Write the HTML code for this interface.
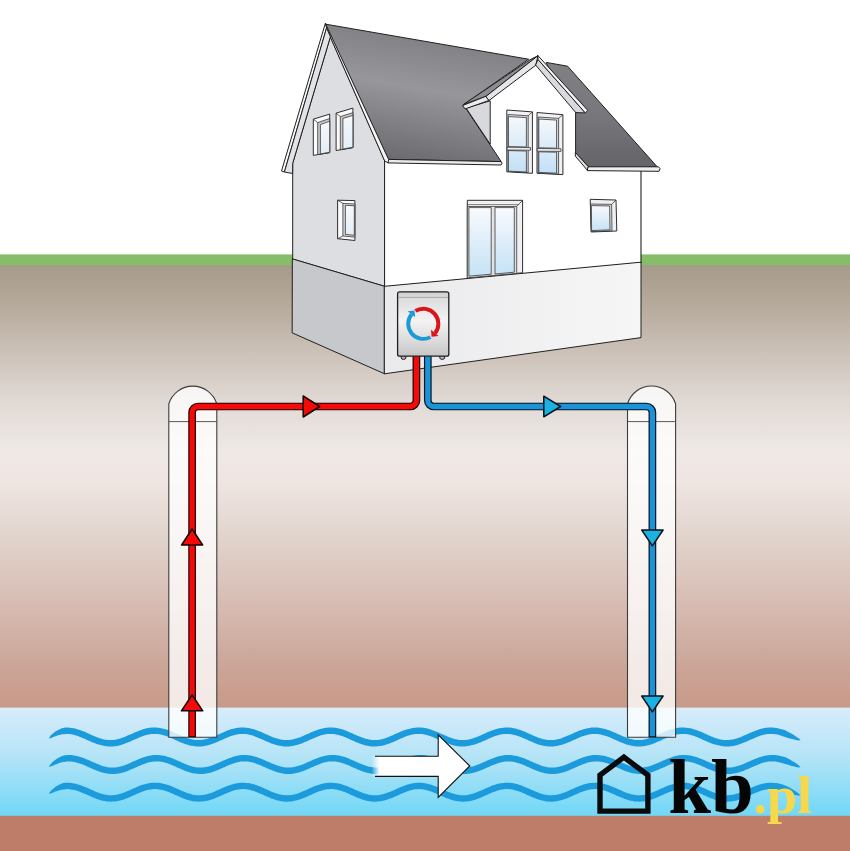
<!DOCTYPE html>
<html>
<head>
<meta charset="utf-8">
<title>Pompa ciepła woda-woda</title>
<style>
html,body{margin:0;padding:0;background:#fff;}
body{width:850px;height:851px;overflow:hidden;font-family:"Liberation Serif",serif;}
svg{display:block;}
</style>
</head>
<body>
<svg width="850" height="851" viewBox="0 0 850 851">
<defs>
  <linearGradient id="ground" x1="0" y1="0" x2="0" y2="1">
    <stop offset="0" stop-color="#A69A8B"/>
    <stop offset="0.079" stop-color="#B4A899"/>
    <stop offset="0.192" stop-color="#CBC0B6"/>
    <stop offset="0.305" stop-color="#E0D9D4"/>
    <stop offset="0.418" stop-color="#EFE9E6"/>
    <stop offset="0.486" stop-color="#EFE5E2"/>
    <stop offset="0.621" stop-color="#E0D3CB"/>
    <stop offset="0.757" stop-color="#D8BDB4"/>
    <stop offset="0.893" stop-color="#CCA79A"/>
    <stop offset="1" stop-color="#C89987"/>
  </linearGradient>
  <linearGradient id="water" x1="0" y1="0" x2="0" y2="1">
    <stop offset="0" stop-color="#D8ECFB"/>
    <stop offset="0.45" stop-color="#B4E4F7"/>
    <stop offset="1" stop-color="#70D7F6"/>
  </linearGradient>
  <linearGradient id="roof" gradientUnits="userSpaceOnUse" x1="420" y1="34" x2="397" y2="166">
    <stop offset="0" stop-color="#7F7F84"/>
    <stop offset="0.4" stop-color="#97979B"/>
    <stop offset="1" stop-color="#68686C"/>
  </linearGradient>
  <linearGradient id="roofR" gradientUnits="userSpaceOnUse" x1="0" y1="60" x2="0" y2="168">
    <stop offset="0" stop-color="#808085"/>
    <stop offset="0.5" stop-color="#78787C"/>
    <stop offset="1" stop-color="#646468"/>
  </linearGradient>
  <linearGradient id="glass" x1="0" y1="0" x2="0" y2="1">
    <stop offset="0" stop-color="#F8FAFD"/>
    <stop offset="0.4" stop-color="#E4F0FA"/>
    <stop offset="1" stop-color="#C6E3F6"/>
  </linearGradient>
  <linearGradient id="glassU" x1="0" y1="0" x2="0" y2="1">
    <stop offset="0" stop-color="#F4F8FC"/>
    <stop offset="1" stop-color="#DAEAF8"/>
  </linearGradient>
  <linearGradient id="glassL" x1="0" y1="0" x2="0" y2="1">
    <stop offset="0" stop-color="#D6E9F8"/>
    <stop offset="1" stop-color="#C2E0F5"/>
  </linearGradient>
  <linearGradient id="glassS" x1="0" y1="0" x2="0" y2="1">
    <stop offset="0" stop-color="#F7F9FC"/>
    <stop offset="1" stop-color="#E3EDF7"/>
  </linearGradient>
  <linearGradient id="baseF" x1="0" y1="0" x2="1" y2="0">
    <stop offset="0" stop-color="#EAEAEC"/>
    <stop offset="1" stop-color="#F6F6F7"/>
  </linearGradient>
  <linearGradient id="box" x1="0" y1="0" x2="0" y2="1">
    <stop offset="0" stop-color="#CFCFD0"/>
    <stop offset="0.1" stop-color="#DCDCDD"/>
    <stop offset="0.45" stop-color="#F3F3F4"/>
    <stop offset="0.8" stop-color="#D8D8D9"/>
    <stop offset="1" stop-color="#C6C6C7"/>
  </linearGradient>
  <linearGradient id="fade" x1="0" y1="0" x2="1" y2="0">
    <stop offset="0" stop-color="#fff" stop-opacity="0"/>
    <stop offset="1" stop-color="#fff" stop-opacity="1"/>
  </linearGradient>
</defs>

<!-- background layers -->
<rect x="0" y="0" width="850" height="851" fill="#fff"/>
<rect x="0" y="254.4" width="850" height="12" fill="#87BD68"/>
<rect x="0" y="265.2" width="850" height="443" fill="url(#ground)"/>
<rect x="0" y="707.6" width="850" height="109" fill="url(#water)"/>
<rect x="0" y="815.8" width="850" height="36" fill="#BD7D69"/>

<!-- waves -->
<g fill="#1C9BDC"><path d="M48.8,738.4 L50.1,736.2 L51.7,734.5 L53.5,733.0 L55.3,731.6 L57.2,730.4 L59.2,729.4 L61.2,728.5 L63.3,727.9 L65.5,727.6 L67.6,727.5 L69.8,727.7 L71.8,727.9 L73.9,728.3 L75.9,728.8 L77.9,729.4 L79.9,730.0 L81.9,730.7 L83.8,731.5 L85.8,732.3 L87.7,733.2 L89.6,734.0 L91.4,734.9 L93.3,735.7 L95.1,736.4 L96.9,737.2 L98.7,737.8 L100.5,738.4 L102.2,739.0 L104.0,739.4 L105.7,739.7 L107.4,739.9 L109.1,740.1 L110.8,740.1 L112.5,740.0 L114.2,739.9 L115.9,739.6 L117.6,739.2 L119.3,738.8 L121.1,738.2 L122.9,737.6 L124.7,736.9 L126.5,736.1 L128.3,735.3 L130.2,734.5 L132.1,733.7 L134.0,732.8 L135.9,732.0 L137.8,731.2 L139.8,730.4 L141.8,729.7 L143.8,729.1 L145.8,728.6 L147.8,728.1 L149.9,727.8 L151.9,727.6 L154.0,727.5 L156.1,727.5 L158.1,727.7 L160.2,728.0 L162.2,728.4 L164.3,728.9 L166.3,729.4 L168.3,730.1 L170.2,730.8 L172.2,731.6 L174.1,732.4 L176.0,733.3 L177.9,734.1 L179.8,735.0 L181.6,735.8 L183.4,736.6 L185.3,737.3 L187.0,737.9 L188.8,738.5 L190.6,739.0 L192.3,739.4 L194.0,739.7 L195.7,740.0 L197.4,740.1 L199.1,740.1 L200.8,740.0 L202.5,739.8 L204.2,739.5 L205.9,739.1 L207.6,738.7 L209.4,738.1 L211.2,737.5 L213.0,736.8 L214.8,736.0 L216.6,735.2 L218.5,734.4 L220.4,733.5 L222.3,732.7 L224.2,731.9 L226.2,731.1 L228.1,730.3 L230.1,729.6 L232.1,729.0 L234.1,728.5 L236.2,728.1 L238.2,727.8 L240.3,727.6 L242.3,727.5 L244.4,727.6 L246.5,727.7 L248.5,728.0 L250.6,728.4 L252.6,728.9 L254.6,729.5 L256.6,730.2 L258.6,731.0 L260.5,731.7 L262.4,732.6 L264.3,733.4 L266.2,734.3 L268.1,735.1 L269.9,735.9 L271.8,736.7 L273.6,737.4 L275.3,738.0 L277.1,738.6 L278.9,739.1 L280.6,739.5 L282.3,739.8 L284.0,740.0 L285.7,740.1 L287.4,740.1 L289.1,740.0 L290.8,739.8 L292.5,739.5 L294.2,739.1 L295.9,738.6 L297.7,738.0 L299.5,737.4 L301.3,736.7 L303.1,735.9 L305.0,735.1 L306.8,734.3 L308.7,733.4 L310.6,732.6 L312.5,731.7 L314.5,731.0 L316.5,730.2 L318.4,729.5 L320.4,728.9 L322.5,728.4 L324.5,728.0 L326.6,727.7 L328.6,727.6 L330.7,727.5 L332.8,727.6 L334.8,727.8 L336.9,728.1 L338.9,728.5 L341.0,729.0 L343.0,729.6 L344.9,730.3 L346.9,731.1 L348.8,731.9 L350.8,732.7 L352.7,733.5 L354.5,734.4 L356.4,735.2 L358.3,736.0 L360.1,736.8 L361.9,737.5 L363.7,738.1 L365.4,738.7 L367.2,739.1 L368.9,739.5 L370.6,739.8 L372.3,740.0 L374.0,740.1 L375.7,740.1 L377.4,740.0 L379.1,739.7 L380.8,739.4 L382.5,739.0 L384.2,738.5 L386.0,737.9 L387.8,737.3 L389.6,736.6 L391.4,735.8 L393.3,735.0 L395.2,734.1 L397.0,733.3 L398.9,732.4 L400.9,731.6 L402.8,730.8 L404.8,730.1 L406.8,729.4 L408.8,728.9 L410.8,728.4 L412.9,728.0 L414.9,727.7 L417.0,727.5 L419.1,727.5 L421.1,727.6 L423.2,727.8 L425.2,728.1 L427.3,728.6 L429.3,729.1 L431.3,729.7 L433.3,730.4 L435.2,731.2 L437.2,732.0 L439.1,732.8 L441.0,733.7 L442.9,734.5 L444.7,735.3 L446.6,736.1 L448.4,736.9 L450.2,737.6 L452.0,738.2 L453.7,738.8 L455.5,739.2 L457.2,739.6 L458.9,739.9 L460.6,740.0 L462.3,740.1 L464.0,740.1 L465.7,739.9 L467.4,739.7 L469.1,739.4 L470.8,739.0 L472.6,738.4 L474.3,737.8 L476.1,737.2 L477.9,736.4 L479.8,735.7 L481.6,734.9 L483.5,734.0 L485.4,733.2 L487.3,732.3 L489.2,731.5 L491.2,730.7 L493.1,730.0 L495.1,729.4 L497.1,728.8 L499.2,728.3 L501.2,727.9 L503.3,727.7 L505.3,727.5 L507.4,727.5 L509.5,727.6 L511.5,727.8 L513.6,728.2 L515.6,728.6 L517.6,729.2 L519.6,729.8 L521.6,730.5 L523.6,731.3 L525.5,732.1 L527.4,732.9 L529.3,733.8 L531.2,734.6 L533.0,735.5 L534.9,736.2 L536.7,737.0 L538.5,737.7 L540.3,738.3 L542.0,738.8 L543.8,739.3 L545.5,739.6 L547.2,739.9 L548.9,740.0 L550.6,740.1 L552.3,740.1 L554.0,739.9 L555.7,739.7 L557.4,739.3 L559.1,738.9 L560.9,738.4 L562.6,737.8 L564.4,737.1 L566.2,736.3 L568.1,735.6 L569.9,734.7 L571.8,733.9 L573.7,733.0 L575.6,732.2 L577.5,731.4 L579.5,730.6 L581.5,729.9 L583.5,729.3 L585.5,728.7 L587.5,728.2 L589.6,727.9 L591.6,727.6 L593.7,727.5 L595.8,727.5 L597.8,727.6 L599.9,727.9 L601.9,728.2 L604.0,728.7 L606.0,729.3 L608.0,729.9 L610.0,730.6 L611.9,731.4 L613.8,732.2 L615.7,733.1 L617.6,733.9 L619.5,734.8 L621.4,735.6 L623.2,736.4 L625.0,737.1 L626.8,737.8 L628.6,738.4 L630.3,738.9 L632.1,739.3 L633.8,739.7 L635.5,739.9 L637.2,740.1 L638.9,740.1 L640.6,740.0 L642.3,739.9 L644.0,739.6 L645.7,739.3 L647.4,738.8 L649.2,738.3 L650.9,737.7 L652.7,737.0 L654.6,736.2 L656.4,735.4 L658.3,734.6 L660.1,733.8 L662.0,732.9 L663.9,732.1 L665.9,731.3 L667.8,730.5 L669.8,729.8 L671.8,729.2 L673.8,728.6 L675.9,728.2 L677.9,727.8 L680.0,727.6 L682.0,727.5 L684.1,727.5 L686.2,727.7 L688.2,727.9 L690.3,728.3 L692.3,728.8 L694.3,729.4 L696.3,730.0 L698.3,730.8 L700.2,731.5 L702.2,732.3 L704.1,733.2 L706.0,734.0 L707.8,734.9 L709.7,735.7 L711.5,736.5 L713.3,737.2 L715.1,737.9 L716.9,738.5 L718.6,739.0 L720.4,739.4 L722.1,739.7 L723.8,739.9 L725.5,740.1 L727.2,740.1 L728.9,740.0 L730.5,739.8 L732.3,739.6 L734.0,739.2 L735.7,738.7 L737.5,738.2 L739.3,737.6 L741.1,736.9 L742.9,736.1 L744.7,735.3 L746.6,734.5 L748.5,733.6 L750.4,732.8 L752.3,732.0 L754.2,731.2 L756.2,730.4 L758.2,729.7 L760.2,729.1 L762.2,728.6 L764.2,728.1 L766.3,727.8 L768.3,727.6 L770.4,727.5 L772.5,727.5 L774.5,727.7 L776.6,728.0 L778.6,728.4 L780.7,728.9 L782.7,729.5 L784.7,730.1 L786.6,730.9 L788.5,731.9 L790.3,732.9 L792.1,734.0 L793.9,735.1 L795.6,736.2 L797.3,737.4 L799.0,738.6 L800.5,740.3 L800.5,740.3 L798.2,740.5 L796.2,740.1 L794.1,739.6 L792.1,739.1 L790.1,738.5 L788.1,737.9 L786.2,737.4 L784.3,736.8 L782.5,736.2 L780.7,735.6 L779.0,735.1 L777.3,734.6 L775.6,734.3 L773.8,734.1 L772.2,733.9 L770.5,733.9 L768.8,734.0 L767.1,734.1 L765.4,734.4 L763.7,734.8 L761.9,735.2 L760.2,735.8 L758.4,736.4 L756.6,737.1 L754.8,737.9 L752.9,738.7 L751.1,739.5 L749.2,740.3 L747.3,741.2 L745.4,742.0 L743.4,742.8 L741.5,743.6 L739.5,744.3 L737.5,744.9 L735.5,745.4 L733.4,745.9 L731.4,746.2 L729.3,746.4 L727.3,746.5 L725.2,746.5 L723.1,746.3 L721.1,746.0 L719.0,745.6 L717.0,745.1 L715.0,744.6 L713.0,743.9 L711.0,743.2 L709.1,742.4 L707.1,741.6 L705.2,740.7 L703.3,739.9 L701.5,739.0 L699.6,738.2 L697.8,737.4 L696.0,736.7 L694.2,736.1 L692.4,735.5 L690.7,735.0 L689.0,734.6 L687.3,734.3 L685.6,734.0 L683.9,733.9 L682.2,733.9 L680.5,734.0 L678.8,734.2 L677.1,734.5 L675.4,734.8 L673.6,735.3 L671.9,735.9 L670.1,736.5 L668.3,737.2 L666.4,738.0 L664.6,738.8 L662.7,739.6 L660.9,740.5 L659.0,741.3 L657.0,742.1 L655.1,742.9 L653.1,743.7 L651.2,744.4 L649.2,745.0 L647.1,745.5 L645.1,745.9 L643.0,746.2 L641.0,746.4 L638.9,746.5 L636.8,746.4 L634.8,746.3 L632.7,746.0 L630.7,745.6 L628.6,745.1 L626.6,744.5 L624.6,743.8 L622.7,743.1 L620.7,742.3 L618.8,741.4 L616.9,740.6 L615.0,739.7 L613.2,738.9 L611.3,738.1 L609.5,737.3 L607.7,736.6 L605.9,736.0 L604.1,735.4 L602.4,734.9 L600.7,734.5 L599.0,734.2 L597.3,734.0 L595.6,733.9 L593.9,733.9 L592.2,734.0 L590.5,734.2 L588.8,734.5 L587.1,734.9 L585.3,735.4 L583.5,736.0 L581.8,736.6 L580.0,737.3 L578.1,738.1 L576.3,738.9 L574.4,739.7 L572.5,740.6 L570.6,741.4 L568.7,742.2 L566.8,743.0 L564.8,743.8 L562.8,744.5 L560.8,745.1 L558.8,745.6 L556.7,746.0 L554.7,746.3 L552.6,746.4 L550.5,746.5 L548.5,746.4 L546.4,746.2 L544.4,745.9 L542.3,745.5 L540.3,745.0 L538.3,744.4 L536.3,743.7 L534.3,742.9 L532.4,742.1 L530.5,741.3 L528.6,740.5 L526.7,739.6 L524.8,738.8 L523.0,738.0 L521.2,737.2 L519.4,736.5 L517.6,735.9 L515.8,735.3 L514.1,734.9 L512.4,734.5 L510.7,734.2 L509.0,734.0 L507.3,733.9 L505.6,733.9 L503.9,734.0 L502.2,734.3 L500.5,734.6 L498.7,735.0 L497.0,735.5 L495.2,736.1 L493.4,736.7 L491.6,737.4 L489.8,738.2 L488.0,739.0 L486.1,739.9 L484.2,740.7 L482.3,741.5 L480.4,742.4 L478.4,743.1 L476.5,743.9 L474.5,744.5 L472.5,745.1 L470.4,745.6 L468.4,746.0 L466.3,746.3 L464.3,746.5 L462.2,746.5 L460.1,746.4 L458.1,746.2 L456.0,745.9 L454.0,745.4 L452.0,744.9 L450.0,744.3 L448.0,743.6 L446.0,742.8 L444.1,742.0 L442.2,741.2 L440.3,740.3 L438.4,739.5 L436.5,738.7 L434.7,737.9 L432.9,737.1 L431.1,736.4 L429.3,735.8 L427.5,735.3 L425.8,734.8 L424.1,734.4 L422.4,734.1 L420.7,734.0 L419.0,733.9 L417.3,733.9 L415.6,734.1 L413.9,734.3 L412.2,734.6 L410.4,735.0 L408.7,735.6 L406.9,736.1 L405.1,736.8 L403.3,737.5 L401.5,738.3 L399.6,739.1 L397.8,740.0 L395.9,740.8 L394.0,741.7 L392.0,742.5 L390.1,743.3 L388.1,744.0 L386.1,744.6 L384.1,745.2 L382.1,745.7 L380.0,746.1 L378.0,746.3 L375.9,746.5 L373.8,746.5 L371.8,746.4 L369.7,746.2 L367.7,745.8 L365.6,745.4 L363.6,744.8 L361.6,744.2 L359.6,743.5 L357.7,742.7 L355.7,741.9 L353.8,741.1 L351.9,740.2 L350.1,739.4 L348.2,738.6 L346.4,737.8 L344.5,737.0 L342.7,736.3 L341.0,735.7 L339.2,735.2 L337.5,734.7 L335.8,734.4 L334.1,734.1 L332.4,734.0 L330.7,733.9 L329.0,733.9 L327.3,734.1 L325.6,734.3 L323.9,734.7 L322.1,735.1 L320.4,735.6 L318.6,736.2 L316.8,736.9 L315.0,737.7 L313.2,738.4 L311.3,739.3 L309.4,740.1 L307.6,740.9 L305.6,741.8 L303.7,742.6 L301.8,743.4 L299.8,744.1 L297.8,744.7 L295.8,745.3 L293.7,745.8 L291.7,746.1 L289.6,746.4 L287.6,746.5 L285.5,746.5 L283.4,746.4 L281.4,746.1 L279.3,745.8 L277.3,745.3 L275.3,744.7 L273.3,744.1 L271.3,743.4 L269.3,742.6 L267.4,741.8 L265.5,740.9 L263.6,740.1 L261.7,739.3 L259.9,738.4 L258.0,737.7 L256.2,736.9 L254.4,736.2 L252.7,735.6 L250.9,735.1 L249.2,734.7 L247.5,734.3 L245.8,734.1 L244.1,733.9 L242.4,733.9 L240.7,734.0 L239.0,734.1 L237.3,734.4 L235.6,734.7 L233.8,735.2 L232.1,735.7 L230.3,736.3 L228.5,737.0 L226.7,737.8 L224.9,738.6 L223.0,739.4 L221.1,740.2 L219.2,741.1 L217.3,741.9 L215.4,742.7 L213.4,743.5 L211.4,744.2 L209.4,744.8 L207.4,745.4 L205.4,745.8 L203.3,746.2 L201.3,746.4 L199.2,746.5 L197.1,746.5 L195.1,746.3 L193.0,746.1 L191.0,745.7 L188.9,745.2 L186.9,744.6 L184.9,744.0 L183.0,743.3 L181.0,742.5 L179.1,741.7 L177.2,740.8 L175.3,740.0 L173.4,739.1 L171.6,738.3 L169.7,737.5 L167.9,736.8 L166.1,736.1 L164.4,735.6 L162.6,735.0 L160.9,734.6 L159.2,734.3 L157.5,734.1 L155.8,733.9 L154.1,733.9 L152.4,734.0 L150.7,734.1 L149.0,734.4 L147.3,734.8 L145.5,735.3 L143.8,735.8 L142.0,736.4 L140.2,737.1 L138.4,737.9 L136.5,738.7 L134.7,739.5 L132.8,740.3 L130.9,741.2 L129.0,742.0 L127.0,742.8 L125.1,743.6 L123.1,744.3 L121.1,744.9 L119.1,745.4 L117.0,745.9 L115.0,746.2 L112.9,746.4 L110.9,746.5 L108.8,746.5 L106.7,746.3 L104.7,746.0 L102.6,745.6 L100.6,745.1 L98.6,744.5 L96.6,743.9 L94.6,743.1 L92.7,742.4 L90.8,741.5 L88.8,740.7 L87.0,739.9 L85.1,739.0 L83.2,738.2 L81.4,737.4 L79.6,736.7 L77.8,736.1 L76.0,735.5 L74.3,735.0 L72.6,734.6 L70.9,734.3 L69.2,734.0 L67.5,733.9 L66.0,734.0 L64.4,734.2 L62.7,734.3 L61.0,734.6 L59.2,735.0 L57.3,735.5 L55.4,736.2 L53.4,737.0 L51.3,737.9 L48.8,738.4Z"/><path d="M48.8,766.9 L50.1,764.7 L51.7,762.9 L53.4,761.3 L55.3,759.9 L57.1,758.6 L59.0,757.4 L61.0,756.5 L63.1,755.7 L65.3,755.2 L67.4,755.0 L69.6,755.0 L71.6,755.1 L73.7,755.4 L75.7,755.7 L77.8,756.2 L79.8,756.8 L81.8,757.4 L83.8,758.1 L85.7,758.9 L87.6,759.7 L89.6,760.5 L91.5,761.4 L93.3,762.2 L95.2,763.0 L97.0,763.8 L98.8,764.6 L100.6,765.2 L102.4,765.9 L104.1,766.4 L105.9,766.8 L107.6,767.2 L109.3,767.4 L111.0,767.6 L112.7,767.6 L114.4,767.5 L116.1,767.4 L117.8,767.1 L119.5,766.8 L121.2,766.3 L123.0,765.8 L124.8,765.2 L126.5,764.5 L128.4,763.7 L130.2,762.9 L132.1,762.1 L133.9,761.3 L135.8,760.4 L137.7,759.6 L139.7,758.8 L141.6,758.0 L143.6,757.3 L145.6,756.7 L147.6,756.1 L149.7,755.7 L151.7,755.3 L153.8,755.1 L155.9,755.0 L157.9,755.0 L160.0,755.2 L162.1,755.4 L164.1,755.8 L166.1,756.3 L168.1,756.9 L170.1,757.5 L172.1,758.3 L174.0,759.0 L176.0,759.9 L177.9,760.7 L179.8,761.5 L181.6,762.4 L183.5,763.2 L185.3,764.0 L187.1,764.7 L188.9,765.4 L190.7,766.0 L192.4,766.5 L194.2,766.9 L195.9,767.2 L197.6,767.4 L199.3,767.6 L201.0,767.6 L202.7,767.5 L204.4,767.3 L206.1,767.1 L207.8,766.7 L209.5,766.2 L211.3,765.7 L213.1,765.0 L214.9,764.3 L216.7,763.6 L218.5,762.8 L220.4,761.9 L222.3,761.1 L224.2,760.3 L226.1,759.4 L228.0,758.6 L230.0,757.9 L232.0,757.2 L234.0,756.6 L236.0,756.0 L238.0,755.6 L240.1,755.3 L242.1,755.1 L244.2,755.0 L246.3,755.0 L248.4,755.2 L250.4,755.5 L252.5,755.9 L254.5,756.4 L256.5,757.0 L258.5,757.7 L260.4,758.4 L262.4,759.2 L264.3,760.0 L266.2,760.9 L268.1,761.7 L270.0,762.6 L271.8,763.4 L273.6,764.1 L275.4,764.8 L277.2,765.5 L279.0,766.1 L280.7,766.6 L282.5,767.0 L284.2,767.3 L285.9,767.5 L287.6,767.6 L289.3,767.6 L290.9,767.5 L292.6,767.3 L294.4,767.0 L296.1,766.6 L297.8,766.1 L299.6,765.5 L301.4,764.9 L303.2,764.2 L305.0,763.4 L306.8,762.6 L308.7,761.8 L310.6,760.9 L312.5,760.1 L314.4,759.3 L316.4,758.5 L318.3,757.7 L320.3,757.1 L322.3,756.4 L324.3,755.9 L326.4,755.5 L328.4,755.2 L330.5,755.1 L332.6,755.0 L334.6,755.1 L336.7,755.3 L338.8,755.6 L340.8,756.0 L342.8,756.5 L344.8,757.1 L346.8,757.8 L348.8,758.6 L350.7,759.4 L352.6,760.2 L354.5,761.0 L356.4,761.9 L358.3,762.7 L360.1,763.5 L362.0,764.3 L363.8,765.0 L365.5,765.6 L367.3,766.2 L369.0,766.7 L370.8,767.0 L372.5,767.3 L374.2,767.5 L375.9,767.6 L377.5,767.6 L379.2,767.5 L380.9,767.2 L382.6,766.9 L384.4,766.5 L386.1,766.0 L387.9,765.4 L389.7,764.8 L391.5,764.0 L393.3,763.3 L395.2,762.5 L397.0,761.6 L398.9,760.8 L400.8,759.9 L402.8,759.1 L404.7,758.3 L406.7,757.6 L408.7,756.9 L410.7,756.3 L412.7,755.8 L414.7,755.5 L416.8,755.2 L418.9,755.0 L420.9,755.0 L423.0,755.1 L425.1,755.3 L427.1,755.7 L429.2,756.1 L431.2,756.6 L433.2,757.3 L435.2,758.0 L437.1,758.7 L439.1,759.5 L441.0,760.4 L442.9,761.2 L444.7,762.1 L446.6,762.9 L448.4,763.7 L450.3,764.4 L452.1,765.1 L453.8,765.7 L455.6,766.3 L457.3,766.7 L459.1,767.1 L460.8,767.4 L462.5,767.5 L464.1,767.6 L465.8,767.6 L467.5,767.4 L469.2,767.2 L470.9,766.8 L472.7,766.4 L474.4,765.9 L476.2,765.3 L478.0,764.6 L479.8,763.9 L481.6,763.1 L483.5,762.3 L485.4,761.4 L487.2,760.6 L489.2,759.8 L491.1,758.9 L493.0,758.2 L495.0,757.5 L497.0,756.8 L499.0,756.2 L501.1,755.8 L503.1,755.4 L505.2,755.1 L507.2,755.0 L509.3,755.0 L511.4,755.1 L513.4,755.4 L515.5,755.7 L517.5,756.2 L519.5,756.8 L521.5,757.4 L523.5,758.1 L525.5,758.9 L527.4,759.7 L529.3,760.5 L531.2,761.4 L533.1,762.2 L534.9,763.0 L536.8,763.8 L538.6,764.6 L540.4,765.2 L542.1,765.9 L543.9,766.4 L545.6,766.8 L547.3,767.2 L549.0,767.4 L550.7,767.6 L552.4,767.6 L554.1,767.5 L555.8,767.4 L557.5,767.1 L559.2,766.8 L561.0,766.3 L562.7,765.8 L564.5,765.2 L566.3,764.5 L568.1,763.7 L569.9,762.9 L571.8,762.1 L573.7,761.3 L575.6,760.4 L577.5,759.6 L579.4,758.8 L581.4,758.0 L583.4,757.3 L585.4,756.7 L587.4,756.1 L589.4,755.7 L591.5,755.3 L593.5,755.1 L595.6,755.0 L597.7,755.0 L599.7,755.2 L601.8,755.4 L603.8,755.8 L605.9,756.3 L607.9,756.9 L609.9,757.5 L611.8,758.3 L613.8,759.0 L615.7,759.9 L617.6,760.7 L619.5,761.5 L621.4,762.4 L623.2,763.2 L625.1,764.0 L626.9,764.7 L628.7,765.4 L630.4,766.0 L632.2,766.5 L633.9,766.9 L635.6,767.2 L637.3,767.4 L639.0,767.6 L640.7,767.6 L642.4,767.5 L644.1,767.3 L645.8,767.1 L647.5,766.7 L649.3,766.2 L651.0,765.7 L652.8,765.0 L654.6,764.3 L656.4,763.6 L658.3,762.8 L660.1,762.0 L662.0,761.1 L663.9,760.3 L665.8,759.4 L667.8,758.6 L669.7,757.9 L671.7,757.2 L673.7,756.6 L675.7,756.0 L677.8,755.6 L679.8,755.3 L681.9,755.1 L684.0,755.0 L686.0,755.0 L688.1,755.2 L690.2,755.5 L692.2,755.9 L694.2,756.4 L696.2,757.0 L698.2,757.7 L700.2,758.4 L702.1,759.2 L704.1,760.0 L706.0,760.9 L707.8,761.7 L709.7,762.6 L711.6,763.4 L713.4,764.1 L715.2,764.8 L717.0,765.5 L718.7,766.1 L720.5,766.6 L722.2,767.0 L723.9,767.3 L725.6,767.5 L727.3,767.6 L729.0,767.6 L730.7,767.5 L732.4,767.3 L734.1,767.0 L735.8,766.6 L737.6,766.1 L739.3,765.5 L741.1,764.9 L742.9,764.2 L744.7,763.4 L746.6,762.6 L748.5,761.8 L750.3,760.9 L752.2,760.1 L754.2,759.3 L756.1,758.5 L758.1,757.7 L760.1,757.1 L762.1,756.5 L764.1,755.9 L766.1,755.5 L768.2,755.2 L770.3,755.1 L772.3,755.0 L774.4,755.1 L776.5,755.3 L778.5,755.6 L780.6,756.0 L782.6,756.5 L784.6,757.1 L786.6,757.8 L788.4,758.8 L790.3,759.8 L792.1,760.9 L793.9,762.0 L795.6,763.1 L797.3,764.3 L799.0,765.5 L800.5,767.2 L800.5,767.2 L798.2,767.4 L796.1,767.0 L794.1,766.5 L792.1,766.0 L790.1,765.4 L788.2,764.8 L786.2,764.3 L784.4,763.8 L782.6,763.2 L780.8,762.7 L779.1,762.2 L777.4,761.9 L775.7,761.6 L774.0,761.5 L772.3,761.4 L770.6,761.4 L768.9,761.6 L767.2,761.8 L765.5,762.2 L763.8,762.6 L762.0,763.1 L760.2,763.8 L758.4,764.4 L756.6,765.2 L754.8,766.0 L752.9,766.8 L751.1,767.6 L749.2,768.5 L747.3,769.3 L745.3,770.1 L743.4,770.9 L741.4,771.6 L739.4,772.2 L737.4,772.8 L735.4,773.3 L733.3,773.6 L731.2,773.9 L729.2,774.0 L727.1,774.0 L725.0,773.9 L723.0,773.6 L720.9,773.2 L718.9,772.8 L716.9,772.2 L714.9,771.5 L712.9,770.8 L711.0,770.1 L709.0,769.2 L707.1,768.4 L705.2,767.6 L703.4,766.7 L701.5,765.9 L699.7,765.1 L697.9,764.4 L696.1,763.7 L694.3,763.1 L692.5,762.6 L690.8,762.2 L689.1,761.8 L687.4,761.6 L685.7,761.4 L684.0,761.4 L682.3,761.5 L680.6,761.6 L678.9,761.9 L677.2,762.3 L675.5,762.7 L673.7,763.3 L671.9,763.9 L670.1,764.6 L668.3,765.3 L666.5,766.1 L664.6,766.9 L662.7,767.8 L660.8,768.6 L658.9,769.5 L657.0,770.3 L655.0,771.0 L653.1,771.7 L651.1,772.4 L649.0,772.9 L647.0,773.3 L644.9,773.7 L642.9,773.9 L640.8,774.0 L638.7,774.0 L636.7,773.8 L634.6,773.5 L632.6,773.2 L630.5,772.7 L628.5,772.1 L626.5,771.4 L624.6,770.7 L622.6,769.9 L620.7,769.1 L618.8,768.2 L616.9,767.4 L615.0,766.5 L613.2,765.7 L611.4,765.0 L609.5,764.2 L607.8,763.6 L606.0,763.0 L604.2,762.5 L602.5,762.1 L600.8,761.8 L599.1,761.5 L597.4,761.4 L595.7,761.4 L594.0,761.5 L592.3,761.7 L590.6,762.0 L588.9,762.3 L587.2,762.8 L585.4,763.4 L583.6,764.0 L581.8,764.7 L580.0,765.5 L578.2,766.3 L576.3,767.1 L574.4,768.0 L572.5,768.8 L570.6,769.6 L568.7,770.4 L566.7,771.2 L564.7,771.9 L562.7,772.5 L560.7,773.0 L558.6,773.4 L556.6,773.7 L554.5,773.9 L552.5,774.0 L550.4,773.9 L548.3,773.8 L546.3,773.5 L544.2,773.1 L542.2,772.5 L540.2,771.9 L538.2,771.3 L536.2,770.5 L534.3,769.7 L532.4,768.9 L530.5,768.1 L528.6,767.2 L526.7,766.4 L524.9,765.6 L523.0,764.8 L521.2,764.1 L519.5,763.5 L517.7,762.9 L515.9,762.4 L514.2,762.0 L512.5,761.7 L510.8,761.5 L509.1,761.4 L507.4,761.4 L505.8,761.5 L504.1,761.7 L502.3,762.0 L500.6,762.4 L498.9,762.9 L497.1,763.5 L495.3,764.2 L493.5,764.9 L491.7,765.6 L489.8,766.4 L488.0,767.3 L486.1,768.1 L484.2,769.0 L482.3,769.8 L480.3,770.6 L478.3,771.3 L476.4,772.0 L474.4,772.6 L472.3,773.1 L470.3,773.5 L468.2,773.8 L466.2,774.0 L464.1,774.0 L462.0,773.9 L460.0,773.7 L457.9,773.4 L455.9,773.0 L453.8,772.4 L451.8,771.8 L449.9,771.1 L447.9,770.4 L446.0,769.6 L444.0,768.7 L442.1,767.9 L440.3,767.0 L438.4,766.2 L436.6,765.4 L434.7,764.7 L432.9,764.0 L431.2,763.3 L429.4,762.8 L427.7,762.3 L425.9,761.9 L424.2,761.7 L422.5,761.5 L420.8,761.4 L419.2,761.4 L417.5,761.6 L415.8,761.8 L414.0,762.1 L412.3,762.5 L410.6,763.0 L408.8,763.6 L407.0,764.3 L405.2,765.0 L403.4,765.8 L401.5,766.6 L399.7,767.5 L397.8,768.3 L395.9,769.1 L393.9,770.0 L392.0,770.7 L390.0,771.5 L388.0,772.1 L386.0,772.7 L384.0,773.2 L381.9,773.6 L379.9,773.8 L377.8,774.0 L375.7,774.0 L373.7,773.9 L371.6,773.7 L369.5,773.3 L367.5,772.9 L365.5,772.3 L363.5,771.7 L361.5,771.0 L359.6,770.2 L357.6,769.4 L355.7,768.6 L353.8,767.7 L351.9,766.9 L350.1,766.1 L348.2,765.3 L346.4,764.5 L344.6,763.8 L342.8,763.2 L341.1,762.7 L339.4,762.2 L337.6,761.9 L335.9,761.6 L334.2,761.5 L332.6,761.4 L330.9,761.4 L329.2,761.6 L327.5,761.8 L325.8,762.2 L324.0,762.6 L322.3,763.1 L320.5,763.8 L318.7,764.4 L316.9,765.2 L315.1,766.0 L313.2,766.8 L311.3,767.6 L309.4,768.5 L307.5,769.3 L305.6,770.1 L303.6,770.9 L301.7,771.6 L299.7,772.2 L297.6,772.8 L295.6,773.3 L293.6,773.6 L291.5,773.9 L289.4,774.0 L287.4,774.0 L285.3,773.9 L283.2,773.6 L281.2,773.2 L279.2,772.8 L277.1,772.2 L275.1,771.6 L273.2,770.8 L271.2,770.1 L269.3,769.2 L267.4,768.4 L265.5,767.6 L263.6,766.7 L261.8,765.9 L259.9,765.1 L258.1,764.4 L256.3,763.7 L254.5,763.1 L252.8,762.6 L251.1,762.2 L249.3,761.8 L247.6,761.6 L246.0,761.4 L244.3,761.4 L242.6,761.5 L240.9,761.6 L239.2,761.9 L237.5,762.3 L235.7,762.7 L234.0,763.3 L232.2,763.9 L230.4,764.6 L228.6,765.3 L226.7,766.1 L224.9,766.9 L223.0,767.8 L221.1,768.6 L219.2,769.5 L217.2,770.3 L215.3,771.0 L213.3,771.7 L211.3,772.4 L209.3,772.9 L207.3,773.3 L205.2,773.7 L203.1,773.9 L201.1,774.0 L199.0,774.0 L196.9,773.8 L194.9,773.5 L192.8,773.2 L190.8,772.7 L188.8,772.1 L186.8,771.4 L184.8,770.7 L182.9,769.9 L181.0,769.1 L179.0,768.2 L177.2,767.4 L175.3,766.6 L173.4,765.7 L171.6,765.0 L169.8,764.2 L168.0,763.6 L166.2,763.0 L164.5,762.5 L162.8,762.1 L161.1,761.8 L159.4,761.5 L157.7,761.4 L156.0,761.4 L154.3,761.5 L152.6,761.7 L150.9,762.0 L149.2,762.3 L147.4,762.8 L145.7,763.4 L143.9,764.0 L142.1,764.7 L140.3,765.5 L138.4,766.3 L136.6,767.1 L134.7,768.0 L132.8,768.8 L130.8,769.6 L128.9,770.4 L126.9,771.2 L125.0,771.9 L123.0,772.5 L120.9,773.0 L118.9,773.4 L116.8,773.7 L114.8,773.9 L112.7,774.0 L110.6,773.9 L108.6,773.8 L106.5,773.5 L104.5,773.1 L102.4,772.6 L100.4,771.9 L98.5,771.3 L96.5,770.5 L94.5,769.7 L92.6,768.9 L90.7,768.1 L88.8,767.2 L87.0,766.4 L85.1,765.6 L83.3,764.8 L81.5,764.1 L79.7,763.5 L77.9,762.9 L76.2,762.4 L74.5,762.0 L72.8,761.7 L71.1,761.5 L69.4,761.4 L67.8,761.4 L66.2,761.6 L64.6,761.9 L62.9,762.1 L61.1,762.5 L59.3,763.0 L57.4,763.7 L55.4,764.5 L53.4,765.4 L51.3,766.3 L48.8,766.9Z"/><path d="M48.8,793.9 L50.1,791.7 L51.7,790.0 L53.5,788.4 L55.3,787.0 L57.2,785.8 L59.1,784.7 L61.2,783.8 L63.3,783.1 L65.4,782.8 L67.6,782.7 L69.7,782.8 L71.8,783.0 L73.8,783.4 L75.9,783.8 L77.9,784.4 L79.9,785.0 L81.9,785.7 L83.8,786.5 L85.8,787.3 L87.7,788.1 L89.6,788.9 L91.4,789.8 L93.3,790.6 L95.1,791.4 L97.0,792.2 L98.8,792.8 L100.5,793.5 L102.3,794.0 L104.0,794.5 L105.7,794.8 L107.5,795.1 L109.1,795.2 L110.8,795.3 L112.5,795.3 L114.2,795.1 L115.9,794.9 L117.6,794.5 L119.4,794.1 L121.1,793.6 L122.9,793.0 L124.7,792.3 L126.5,791.6 L128.3,790.8 L130.2,790.0 L132.1,789.1 L134.0,788.3 L135.9,787.4 L137.8,786.6 L139.7,785.8 L141.7,785.1 L143.7,784.5 L145.7,783.9 L147.8,783.5 L149.8,783.1 L151.9,782.8 L153.9,782.7 L156.0,782.7 L158.1,782.8 L160.1,783.1 L162.2,783.4 L164.2,783.9 L166.2,784.5 L168.2,785.1 L170.2,785.8 L172.2,786.6 L174.1,787.4 L176.0,788.2 L177.9,789.1 L179.8,789.9 L181.6,790.8 L183.5,791.5 L185.3,792.3 L187.1,793.0 L188.8,793.6 L190.6,794.1 L192.3,794.5 L194.0,794.9 L195.7,795.1 L197.4,795.3 L199.1,795.3 L200.8,795.2 L202.5,795.1 L204.2,794.8 L205.9,794.5 L207.7,794.0 L209.4,793.5 L211.2,792.9 L213.0,792.2 L214.8,791.4 L216.6,790.6 L218.5,789.8 L220.4,789.0 L222.3,788.1 L224.2,787.3 L226.1,786.5 L228.1,785.7 L230.1,785.0 L232.1,784.4 L234.1,783.8 L236.1,783.4 L238.2,783.0 L240.2,782.8 L242.3,782.7 L244.4,782.7 L246.4,782.9 L248.5,783.1 L250.5,783.5 L252.6,784.0 L254.6,784.6 L256.6,785.2 L258.5,786.0 L260.5,786.7 L262.4,787.6 L264.3,788.4 L266.2,789.2 L268.1,790.1 L269.9,790.9 L271.8,791.7 L273.6,792.4 L275.4,793.1 L277.1,793.7 L278.9,794.2 L280.6,794.6 L282.3,794.9 L284.0,795.1 L285.7,795.3 L287.4,795.3 L289.1,795.2 L290.8,795.0 L292.5,794.8 L294.2,794.4 L296.0,793.9 L297.7,793.4 L299.5,792.7 L301.3,792.1 L303.1,791.3 L305.0,790.5 L306.8,789.7 L308.7,788.8 L310.6,788.0 L312.5,787.1 L314.5,786.3 L316.4,785.6 L318.4,784.9 L320.4,784.3 L322.4,783.7 L324.5,783.3 L326.5,783.0 L328.6,782.8 L330.7,782.7 L332.7,782.7 L334.8,782.9 L336.9,783.2 L338.9,783.6 L340.9,784.1 L342.9,784.7 L344.9,785.4 L346.9,786.1 L348.8,786.9 L350.8,787.7 L352.7,788.5 L354.5,789.4 L356.4,790.2 L358.3,791.0 L360.1,791.8 L361.9,792.5 L363.7,793.2 L365.4,793.8 L367.2,794.2 L368.9,794.7 L370.6,795.0 L372.3,795.2 L374.0,795.3 L375.7,795.3 L377.4,795.2 L379.1,795.0 L380.8,794.7 L382.5,794.3 L384.3,793.8 L386.0,793.3 L387.8,792.6 L389.6,791.9 L391.4,791.2 L393.3,790.4 L395.2,789.5 L397.0,788.7 L398.9,787.8 L400.9,787.0 L402.8,786.2 L404.8,785.5 L406.8,784.8 L408.8,784.2 L410.8,783.7 L412.8,783.2 L414.9,782.9 L416.9,782.8 L419.0,782.7 L421.1,782.8 L423.1,782.9 L425.2,783.3 L427.2,783.7 L429.3,784.2 L431.3,784.8 L433.3,785.5 L435.2,786.2 L437.2,787.0 L439.1,787.8 L441.0,788.7 L442.9,789.5 L444.7,790.4 L446.6,791.2 L448.4,791.9 L450.2,792.6 L452.0,793.3 L453.8,793.8 L455.5,794.3 L457.2,794.7 L458.9,795.0 L460.6,795.2 L462.3,795.3 L464.0,795.3 L465.7,795.2 L467.4,795.0 L469.1,794.6 L470.8,794.2 L472.6,793.7 L474.3,793.2 L476.1,792.5 L477.9,791.8 L479.8,791.0 L481.6,790.2 L483.5,789.4 L485.4,788.5 L487.3,787.7 L489.2,786.9 L491.1,786.1 L493.1,785.3 L495.1,784.7 L497.1,784.1 L499.1,783.6 L501.2,783.2 L503.2,782.9 L505.3,782.7 L507.4,782.7 L509.4,782.8 L511.5,783.0 L513.6,783.3 L515.6,783.8 L517.6,784.3 L519.6,784.9 L521.6,785.6 L523.6,786.4 L525.5,787.2 L527.4,788.0 L529.3,788.8 L531.2,789.7 L533.1,790.5 L534.9,791.3 L536.7,792.1 L538.5,792.8 L540.3,793.4 L542.1,793.9 L543.8,794.4 L545.5,794.8 L547.2,795.0 L548.9,795.2 L550.6,795.3 L552.3,795.3 L554.0,795.1 L555.7,794.9 L557.4,794.6 L559.1,794.2 L560.9,793.7 L562.6,793.1 L564.4,792.4 L566.2,791.7 L568.1,790.9 L569.9,790.1 L571.8,789.2 L573.7,788.4 L575.6,787.5 L577.5,786.7 L579.5,785.9 L581.5,785.2 L583.4,784.6 L585.5,784.0 L587.5,783.5 L589.5,783.1 L591.6,782.9 L593.7,782.7 L595.7,782.7 L597.8,782.8 L599.9,783.0 L601.9,783.4 L603.9,783.8 L606.0,784.4 L608.0,785.0 L609.9,785.7 L611.9,786.5 L613.8,787.3 L615.7,788.1 L617.6,789.0 L619.5,789.8 L621.4,790.6 L623.2,791.4 L625.0,792.2 L626.8,792.9 L628.6,793.5 L630.4,794.0 L632.1,794.5 L633.8,794.8 L635.5,795.1 L637.2,795.2 L638.9,795.3 L640.6,795.3 L642.3,795.1 L644.0,794.9 L645.7,794.5 L647.4,794.1 L649.2,793.6 L651.0,793.0 L652.7,792.3 L654.6,791.5 L656.4,790.7 L658.3,789.9 L660.1,789.1 L662.0,788.2 L663.9,787.4 L665.9,786.6 L667.8,785.8 L669.8,785.1 L671.8,784.5 L673.8,783.9 L675.8,783.4 L677.9,783.1 L679.9,782.8 L682.0,782.7 L684.1,782.7 L686.2,782.8 L688.2,783.1 L690.3,783.5 L692.3,783.9 L694.3,784.5 L696.3,785.1 L698.3,785.9 L700.2,786.6 L702.2,787.4 L704.1,788.3 L706.0,789.1 L707.8,790.0 L709.7,790.8 L711.5,791.6 L713.3,792.3 L715.1,793.0 L716.9,793.6 L718.7,794.1 L720.4,794.5 L722.1,794.9 L723.8,795.1 L725.5,795.3 L727.2,795.3 L728.9,795.2 L730.6,795.1 L732.3,794.8 L734.0,794.5 L735.7,794.0 L737.5,793.5 L739.3,792.8 L741.1,792.1 L742.9,791.4 L744.7,790.6 L746.6,789.8 L748.5,788.9 L750.3,788.1 L752.3,787.3 L754.2,786.5 L756.2,785.7 L758.1,785.0 L760.1,784.4 L762.2,783.8 L764.2,783.4 L766.2,783.0 L768.3,782.8 L770.4,782.7 L772.4,782.7 L774.5,782.9 L776.6,783.1 L778.6,783.5 L780.6,784.0 L782.7,784.6 L784.6,785.3 L786.6,786.0 L788.5,787.0 L790.3,788.0 L792.1,789.1 L793.9,790.2 L795.6,791.3 L797.3,792.5 L799.0,793.7 L800.5,795.4 L800.5,795.4 L798.2,795.6 L796.1,795.2 L794.1,794.7 L792.1,794.2 L790.1,793.6 L788.1,793.0 L786.2,792.5 L784.3,792.0 L782.5,791.3 L780.8,790.7 L779.0,790.2 L777.3,789.8 L775.6,789.5 L773.9,789.2 L772.2,789.1 L770.5,789.1 L768.8,789.2 L767.1,789.4 L765.4,789.7 L763.7,790.0 L761.9,790.5 L760.2,791.1 L758.4,791.7 L756.6,792.4 L754.8,793.1 L752.9,793.9 L751.1,794.8 L749.2,795.6 L747.3,796.5 L745.4,797.3 L743.4,798.1 L741.5,798.8 L739.5,799.5 L737.5,800.2 L735.5,800.7 L733.4,801.1 L731.4,801.4 L729.3,801.6 L727.2,801.7 L725.2,801.7 L723.1,801.5 L721.0,801.2 L719.0,800.8 L717.0,800.3 L715.0,799.7 L713.0,799.0 L711.0,798.3 L709.1,797.5 L707.1,796.7 L705.2,795.8 L703.3,795.0 L701.5,794.1 L699.6,793.3 L697.8,792.6 L696.0,791.8 L694.2,791.2 L692.5,790.6 L690.7,790.1 L689.0,789.7 L687.3,789.4 L685.6,789.2 L683.9,789.1 L682.2,789.1 L680.5,789.2 L678.8,789.4 L677.1,789.7 L675.4,790.1 L673.6,790.6 L671.9,791.2 L670.1,791.8 L668.3,792.5 L666.5,793.3 L664.6,794.1 L662.7,794.9 L660.9,795.8 L659.0,796.6 L657.0,797.4 L655.1,798.2 L653.1,799.0 L651.1,799.7 L649.1,800.3 L647.1,800.8 L645.1,801.2 L643.0,801.5 L640.9,801.6 L638.9,801.7 L636.8,801.6 L634.7,801.4 L632.7,801.1 L630.6,800.7 L628.6,800.2 L626.6,799.6 L624.6,798.9 L622.7,798.1 L620.7,797.3 L618.8,796.5 L616.9,795.7 L615.0,794.8 L613.2,794.0 L611.3,793.2 L609.5,792.4 L607.7,791.7 L605.9,791.1 L604.2,790.5 L602.4,790.1 L600.7,789.7 L599.0,789.4 L597.3,789.2 L595.6,789.1 L593.9,789.1 L592.2,789.2 L590.5,789.5 L588.8,789.8 L587.1,790.2 L585.3,790.7 L583.6,791.3 L581.8,791.9 L580.0,792.6 L578.1,793.4 L576.3,794.2 L574.4,795.1 L572.5,795.9 L570.6,796.8 L568.7,797.6 L566.7,798.4 L564.8,799.1 L562.8,799.8 L560.8,800.3 L558.8,800.8 L556.7,801.2 L554.7,801.5 L552.6,801.7 L550.5,801.7 L548.4,801.6 L546.4,801.4 L544.3,801.1 L542.3,800.6 L540.3,800.1 L538.3,799.5 L536.3,798.8 L534.3,798.0 L532.4,797.2 L530.5,796.4 L528.6,795.5 L526.7,794.7 L524.8,793.8 L523.0,793.1 L521.2,792.3 L519.4,791.6 L517.6,791.0 L515.8,790.4 L514.1,790.0 L512.4,789.6 L510.7,789.3 L509.0,789.2 L507.3,789.1 L505.6,789.1 L503.9,789.3 L502.2,789.5 L500.5,789.8 L498.8,790.3 L497.0,790.8 L495.3,791.4 L493.5,792.0 L491.7,792.8 L489.8,793.6 L488.0,794.4 L486.1,795.2 L484.2,796.1 L482.3,796.9 L480.4,797.7 L478.4,798.5 L476.4,799.2 L474.4,799.9 L472.4,800.4 L470.4,800.9 L468.4,801.3 L466.3,801.5 L464.2,801.7 L462.2,801.7 L460.1,801.6 L458.0,801.3 L456.0,801.0 L453.9,800.5 L451.9,800.0 L449.9,799.3 L448.0,798.6 L446.0,797.9 L444.1,797.1 L442.1,796.2 L440.3,795.4 L438.4,794.5 L436.5,793.7 L434.7,792.9 L432.9,792.2 L431.1,791.5 L429.3,790.9 L427.5,790.4 L425.8,789.9 L424.1,789.6 L422.4,789.3 L420.7,789.2 L419.0,789.1 L417.3,789.2 L415.6,789.3 L413.9,789.6 L412.2,789.9 L410.5,790.3 L408.7,790.9 L406.9,791.5 L405.2,792.2 L403.3,792.9 L401.5,793.7 L399.6,794.5 L397.8,795.4 L395.9,796.2 L394.0,797.0 L392.0,797.9 L390.1,798.6 L388.1,799.3 L386.1,800.0 L384.1,800.5 L382.1,801.0 L380.0,801.3 L377.9,801.6 L375.9,801.7 L373.8,801.7 L371.7,801.5 L369.7,801.3 L367.6,800.9 L365.6,800.4 L363.6,799.9 L361.6,799.2 L359.6,798.5 L357.7,797.7 L355.7,796.9 L353.8,796.1 L351.9,795.2 L350.1,794.4 L348.2,793.6 L346.4,792.8 L344.6,792.1 L342.8,791.4 L341.0,790.8 L339.2,790.3 L337.5,789.8 L335.8,789.5 L334.1,789.3 L332.4,789.1 L330.7,789.1 L329.0,789.2 L327.3,789.3 L325.6,789.6 L323.9,790.0 L322.2,790.4 L320.4,791.0 L318.6,791.6 L316.8,792.3 L315.0,793.0 L313.2,793.8 L311.3,794.7 L309.4,795.5 L307.5,796.4 L305.6,797.2 L303.7,798.0 L301.7,798.7 L299.8,799.4 L297.8,800.1 L295.7,800.6 L293.7,801.1 L291.6,801.4 L289.6,801.6 L287.5,801.7 L285.4,801.7 L283.4,801.5 L281.3,801.2 L279.3,800.8 L277.2,800.4 L275.2,799.8 L273.2,799.1 L271.3,798.4 L269.3,797.6 L267.4,796.8 L265.5,795.9 L263.6,795.1 L261.7,794.2 L259.9,793.4 L258.1,792.7 L256.2,791.9 L254.5,791.3 L252.7,790.7 L250.9,790.2 L249.2,789.8 L247.5,789.5 L245.8,789.2 L244.1,789.1 L242.4,789.1 L240.7,789.2 L239.0,789.4 L237.3,789.7 L235.6,790.0 L233.9,790.5 L232.1,791.1 L230.3,791.7 L228.5,792.4 L226.7,793.2 L224.9,794.0 L223.0,794.8 L221.1,795.7 L219.2,796.5 L217.3,797.3 L215.4,798.1 L213.4,798.9 L211.4,799.6 L209.4,800.2 L207.4,800.7 L205.3,801.1 L203.3,801.4 L201.2,801.6 L199.2,801.7 L197.1,801.6 L195.0,801.5 L193.0,801.2 L190.9,800.8 L188.9,800.3 L186.9,799.7 L184.9,799.0 L182.9,798.2 L181.0,797.4 L179.1,796.6 L177.2,795.8 L175.3,794.9 L173.4,794.1 L171.6,793.3 L169.7,792.5 L167.9,791.8 L166.2,791.2 L164.4,790.6 L162.6,790.1 L160.9,789.7 L159.2,789.4 L157.5,789.2 L155.8,789.1 L154.1,789.1 L152.4,789.2 L150.7,789.4 L149.0,789.7 L147.3,790.1 L145.6,790.6 L143.8,791.2 L142.0,791.8 L140.2,792.5 L138.4,793.3 L136.5,794.1 L134.7,795.0 L132.8,795.8 L130.9,796.6 L129.0,797.5 L127.0,798.3 L125.0,799.0 L123.1,799.7 L121.1,800.3 L119.0,800.8 L117.0,801.2 L114.9,801.5 L112.9,801.6 L110.8,801.7 L108.7,801.6 L106.7,801.4 L104.6,801.1 L102.6,800.7 L100.5,800.2 L98.5,799.5 L96.6,798.9 L94.6,798.1 L92.7,797.3 L90.7,796.5 L88.8,795.6 L87.0,794.8 L85.1,794.0 L83.3,793.2 L81.4,792.4 L79.6,791.7 L77.8,791.1 L76.1,790.5 L74.3,790.0 L72.6,789.7 L70.9,789.4 L69.2,789.2 L67.6,789.1 L66.0,789.2 L64.4,789.4 L62.7,789.6 L61.0,789.9 L59.2,790.3 L57.3,790.9 L55.4,791.6 L53.4,792.5 L51.3,793.3 L48.8,793.9Z"/></g>

<!-- HOUSE -->
<g stroke="#202020" stroke-width="1" stroke-linejoin="round" stroke-linecap="round">
  <!-- gable (left) wall -->
  <polygon points="330.3,37.1 292.7,163.3 292.7,259 384.6,286.3 384.6,160.5 326.5,28.2" fill="#DDDEE1"/>
  <!-- basement left -->
  <polygon points="292.7,259 384.6,286.3 384.6,373.8 292.5,333" fill="#C7C8CB"/>
  <!-- front wall -->
  <polygon points="384.6,160 490.2,160 490.2,100 537.5,58 575.6,112 575.6,160 641.2,168 641,262.2 384.6,286.3" fill="#fff" stroke="none"/>
  <!-- basement front -->
  <polygon points="384.6,286.3 641,262.2 641,337.6 384.6,373.8" fill="url(#baseF)"/>
  <line x1="641" y1="170" x2="641" y2="262.4" stroke-width="1.1"/>
  <line x1="384.6" y1="161" x2="384.6" y2="286.3"/>

  <!-- main roof, left part -->
  <polygon points="325.8,24.2 528.6,59.2 463.5,104.8 501.2,161.6 388.4,159.4" fill="url(#roof)"/>
  <!-- eave strip left part -->
  <path d="M386.2,159.2 L388.6,159.4 L501.2,161.6 Q503,163 501,165 L388.2,162.9 Z" fill="#ECECEE"/>
  <!-- verge strip on gable right side -->
  <polygon points="325.6,23.8 388.6,159.4 388.2,162.9 384.7,161 326.5,28.2" fill="#F4F4F5"/>
  <!-- left fascia -->
  <polygon points="325.2,23.8 281.5,171 284.4,172 326.5,28.2" fill="#FAFAFA"/>
  <polygon points="326.5,28.2 284.4,172 292.6,173.5 292.7,163.3 330.3,37.1" fill="#E2E3E6"/>

  <!-- main roof, right part -->
  <polygon points="548,66.5 546.2,62.4 567.6,66.2 657.2,166.8 588.4,166.8 575.6,152.7 575.6,100" fill="url(#roofR)"/>
  <polygon points="575.6,152.7 588.4,166.8 587.6,170.6 575.6,156.4" fill="#E0E0E3"/>
  <path d="M588.4,166.8 L658.5,166.8 Q661.5,168.5 659,171.3 L587.6,170.6 Z" fill="#EFEFF0"/>

  <!-- dormer -->
  <polygon points="463.6,104.5 486.2,96.2 537.8,55.8 530.3,59.6" fill="#8C8C91"/>
  <polygon points="466.5,108 490.2,100.8 490.2,143.8" fill="#D8D9DC"/>
  <polygon points="462.8,105.5 486.2,96.2 489.1,100.4 465.4,108.8" fill="#ECECEE"/>
  <polygon points="486.2,96.2 538,55.7 535.8,65.2 489.1,100.4" fill="#E6E6E9"/>
  <polygon points="538.3,59.8 585.3,112.9 575.8,112.6 535.8,65.2" fill="#DADADE"/>
  <polygon points="538,55.7 587.8,110.4 585.3,112.9 538.3,59.8" fill="#F3F3F5"/>
</g>

<!-- WINDOWS -->
<g stroke="#2e2e2e" stroke-width="1" stroke-linejoin="round">
  <!-- gable window 1 -->
  <polygon points="313.3,119.2 329.7,114.1 329.7,152.6 313.3,155.4" fill="#FBFBFC"/>
  <polygon points="317.7,122.6 329.7,118.5 329.7,152.6 317.7,154.6" fill="#C9CACD" stroke-width="0.75"/>
  <polygon points="320.4,124.6 329.7,121.2 329.7,152.2 320.4,153.9" fill="url(#glassS)" stroke-width="0.75"/>
  <line x1="313.3" y1="119.2" x2="317.7" y2="122.6" stroke-width="0.75"/>
  <!-- gable window 2 -->
  <polygon points="336.1,113.1 352.9,108.1 352.9,147.6 336.1,150.5" fill="#FBFBFC"/>
  <polygon points="340.3,116.6 352.9,112.7 352.9,147.6 340.3,149.8" fill="#C9CACD" stroke-width="0.75"/>
  <polygon points="342.9,118.4 352.9,115.4 352.9,147.2 342.9,149.1" fill="url(#glassS)" stroke-width="0.75"/>
  <line x1="336.1" y1="113.1" x2="340.3" y2="116.6" stroke-width="0.75"/>
  <!-- lower left window -->
  <polygon points="337.6,200.2 354.9,200.6 354.9,240.5 337.6,238.7" fill="#FBFBFC"/>
  <polygon points="342.9,203.4 354.9,204 354.9,237.2 342.9,236" fill="#D2D3D6" stroke-width="0.75"/>
  <polygon points="345.4,205.3 354.3,205.8 354.3,235.3 345.4,234.4" fill="url(#glassS)" stroke-width="0.75"/>
  <line x1="337.6" y1="200.2" x2="342.9" y2="203.4" stroke-width="0.75"/>
  <line x1="337.6" y1="238.7" x2="342.9" y2="236" stroke-width="0.75"/>

  <!-- dormer window L -->
  <polygon points="506.8,110 532.4,111.9 532.4,173.3 506.8,171.8" fill="#F2F2F4"/>
  <polygon points="508,114.5 528.2,115.8 528.2,172.6 508,171.4" fill="#DCDDE0" stroke-width="0.75"/>
  <polygon points="508.4,116.6 526.4,117.6 526.4,147 508.4,146.6" fill="url(#glassU)" stroke-width="0.75"/>
  <polygon points="508.4,150.6 526.4,151 526.4,172 508.4,171.2" fill="url(#glassL)" stroke-width="0.75"/>
  <line x1="532.4" y1="111.9" x2="528.2" y2="115.8" stroke-width="0.75"/>
  <path d="M507,147.2 L530.6,147.6 L530.6,150.2 L507,150 Z" fill="#EDEDEF" stroke-width="0.75"/>
  <!-- dormer window R -->
  <polygon points="537,112.5 562.9,114.7 562.9,174.6 537,173.3" fill="#F2F2F4"/>
  <polygon points="538.2,117 558.6,118.4 558.6,174 538.2,173" fill="#DCDDE0" stroke-width="0.75"/>
  <polygon points="538.8,119 556.6,120.1 556.6,148.2 538.8,147.8" fill="url(#glassU)" stroke-width="0.75"/>
  <polygon points="538.8,151.8 556.6,152.2 556.6,173.2 538.8,172.4" fill="url(#glassL)" stroke-width="0.75"/>
  <line x1="562.9" y1="114.7" x2="558.6" y2="118.4" stroke-width="0.75"/>
  <path d="M537.2,148.4 L561,148.8 L561,151.4 L537.2,151.2 Z" fill="#EDEDEF" stroke-width="0.75"/>

  <!-- patio door -->
  <polygon points="467.3,200.3 522.6,200.3 522.6,272.8 467.3,277.9" fill="#F0F0F2"/>
  <polygon points="467.3,206.5 516.7,206.5 516.7,273.4 467.3,277.9" fill="#E2E3E6" stroke-width="0.75"/>
  <line x1="522.6" y1="200.3" x2="516.7" y2="206.5" stroke-width="0.75"/>
  <line x1="467.3" y1="204.6" x2="518.4" y2="204.6" stroke-width="0.6"/>
  <polygon points="468.9,207.6 491.2,207.6 491.2,274.2 468.9,276.2" fill="url(#glass)" stroke-width="0.75"/>
  <polygon points="495,207.6 514.3,207.6 514.3,272.2 495,274" fill="url(#glass)" stroke-width="0.75"/>

  <!-- small right window -->
  <polygon points="590.2,199.3 616,200 616.8,231 591.2,232" fill="#F0F0F2"/>
  <polygon points="590.6,204 611.6,204.4 612,230.8 591.2,231.6" fill="#DCDDE0" stroke-width="0.75"/>
  <polygon points="591.4,205.6 609.6,206 610,229.8 591.6,230.6" fill="url(#glass)" stroke-width="0.75"/>
  <line x1="616" y1="200" x2="611.6" y2="204.4" stroke-width="0.75"/>
</g>

<!-- WELLS -->
<g fill="#fff" fill-opacity="0.78" stroke="#3c3c3c" stroke-width="1.1">
  <path d="M168.8,737.2 L168.8,403.9 A25.1,25.1 0 0 1 216.8,403.9 L216.8,737.2 Z"/>
  <path d="M627.5,737.2 L627.5,403.9 A25.1,25.1 0 0 1 675.6,403.9 L675.6,737.2 Z"/>
</g>
<g stroke="#4a4a4a" stroke-width="0.9" fill="none">
  <line x1="168.8" y1="421.6" x2="216.8" y2="421.6"/>
  <line x1="627.5" y1="421.6" x2="675.6" y2="421.6"/>
</g>

<!-- PIPES -->
<g fill="none" stroke-linejoin="round">
  <path d="M192.1,737.2 L192.1,412.5 A6,6 0 0 1 198.1,406.5 L410.4,406.5 A6,6 0 0 0 416.4,400.5 L416.4,356" stroke="#1a0505" stroke-width="7.7"/>
  <path d="M192.1,736.2 L192.1,412.5 A6,6 0 0 1 198.1,406.5 L410.4,406.5 A6,6 0 0 0 416.4,400.5 L416.4,356" stroke="#F50A0A" stroke-width="5.3"/>
  <path d="M652.4,737.2 L652.4,412.5 A6,6 0 0 0 646.4,406.5 L433.8,406.5 A6,6 0 0 1 427.8,400.5 L427.8,356" stroke="#06141f" stroke-width="7.7"/>
  <path d="M652.4,736.2 L652.4,412.5 A6,6 0 0 0 646.4,406.5 L433.8,406.5 A6,6 0 0 1 427.8,400.5 L427.8,356" stroke="#1B93D8" stroke-width="5.3"/>
</g>

<!-- flow arrows -->
<g stroke="#140404" stroke-width="1.5" stroke-linejoin="round" fill="#F50A0A">
  <polygon points="303.2,396 303.2,417 319.6,406.5"/>
  <polygon points="181.6,545 202.6,545 192.1,529"/>
  <polygon points="181.4,710.8 202.8,710.8 192.1,695"/>
</g>
<g stroke="#06121e" stroke-width="1.5" stroke-linejoin="round" fill="#19B2E2">
  <polygon points="543.8,396.2 543.8,416.8 560.6,406.5"/>
  <polygon points="641.7,530 663.1,530 652.4,545.8"/>
  <polygon points="641.7,696 663.1,696 652.4,711.8"/>
</g>

<!-- HEAT PUMP -->
<g>
  <path d="M401.2,355 L401.2,358 Q401.4,359.4 403.5,359.4 Q405.7,359.4 405.9,358 L405.9,355 Z M439.8,355 L439.8,358 Q440,359.4 442.2,359.4 Q444.4,359.4 444.6,358 L444.6,355 Z" fill="#B5B5B8" stroke="#222" stroke-width="1"/>
  <rect x="397.6" y="291.8" width="51.2" height="64.4" rx="2" ry="2" fill="url(#box)" stroke="#1f1f1f" stroke-width="1.3"/>
  <line x1="398.4" y1="297.4" x2="448" y2="297.4" stroke="#9a9a9c" stroke-width="0.8"/>
  <!-- circulation icon -->
  <path d="M415.41,310.93 A15.1,15.1 0 0 1 435.03,333.30" fill="none" stroke="#DA141A" stroke-width="3.9"/>
  <polygon points="431.0,329.8 438.5,336.1 431.6,336.7" fill="#DA141A"/>
  <path d="M430.39,337.13 A15.1,15.1 0 0 1 411.57,314.30" fill="none" stroke="#1B9AD7" stroke-width="3.9"/>
  <polygon points="407.7,311.2 415.1,317.2 414.5,310.6" fill="#1B9AD7"/>
</g>

<!-- white flow arrow in water -->
<rect x="371.5" y="756.2" width="8" height="20.2" fill="url(#fade)"/>
<path d="M379,756.2 L438.2,756.2 L438.2,734.8 L469.8,766 L438.2,797.4 L438.2,776.4 L379,776.4 Z" fill="#fff" stroke="none"/>
<path d="M375,756.2 L438.2,756.2 L438.2,734.8 L469.8,766 L438.2,797.4 L438.2,776.4 L375,776.4" fill="none" stroke="#111" stroke-width="1.1" stroke-linejoin="miter"/>

<!-- LOGO -->
<path d="M600,811.1 L600,775.2 L623.9,757.2 L647.9,775.2 L647.9,811.1 Z" fill="none" stroke="#0a0a0a" stroke-width="5.4" stroke-linejoin="miter"/>
<text x="668.2" y="812.6" font-family="'Liberation Serif',serif" font-weight="700" font-size="77.5" fill="#050505" textLength="85.5" lengthAdjust="spacingAndGlyphs">kb</text>
<text x="753.5" y="812.6" font-family="'Liberation Serif',serif" font-weight="700" font-size="52.5" fill="#F8D84B" textLength="58.5" lengthAdjust="spacingAndGlyphs">.pl</text>
</svg>
</body>
</html>
